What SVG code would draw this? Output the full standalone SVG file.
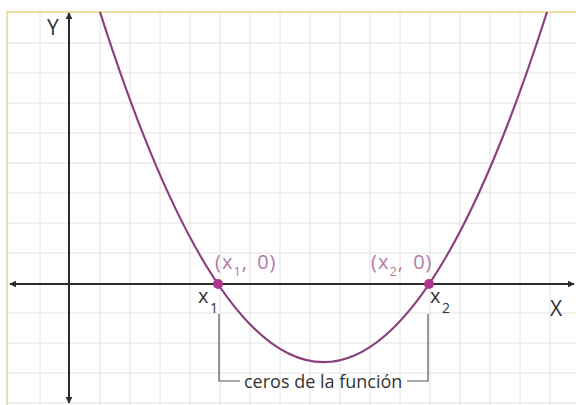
<svg xmlns="http://www.w3.org/2000/svg" width="576" height="405" viewBox="0 0 576 405">
<defs>
<style>
.grid line{stroke:#e2e2e2;stroke-width:1}
.axis{stroke:#2b2b2b;stroke-width:2;fill:none}
.curve{stroke:#8a3f7e;stroke-width:2.2;fill:none}
.dot{fill:#b0338f}
.lbl{font-family:"Open Sans","Noto Sans",sans-serif;fill:#333}
.pt{font-family:"Open Sans","Noto Sans",sans-serif;fill:#b57aa8;letter-spacing:1px;word-spacing:3px}
.br{stroke:#555;stroke-width:1.2;fill:none}
</style>
<marker id="ah" viewBox="0 0 10 10" refX="9" refY="5" markerWidth="7" markerHeight="7" markerUnits="userSpaceOnUse" orient="auto">
<path d="M0,0 L10,5 L0,10 z" fill="#2b2b2b"/>
</marker>
</defs>
<rect width="576" height="405" fill="#fff"/>
<g class="grid">
<line x1="40" y1="12" x2="40" y2="405"/><line x1="100" y1="12" x2="100" y2="405"/><line x1="130" y1="12" x2="130" y2="405"/><line x1="160" y1="12" x2="160" y2="405"/><line x1="190" y1="12" x2="190" y2="405"/><line x1="220" y1="12" x2="220" y2="405"/><line x1="250" y1="12" x2="250" y2="405"/><line x1="280" y1="12" x2="280" y2="405"/><line x1="310" y1="12" x2="310" y2="405"/><line x1="340" y1="12" x2="340" y2="405"/><line x1="370" y1="12" x2="370" y2="405"/><line x1="400" y1="12" x2="400" y2="405"/><line x1="430" y1="12" x2="430" y2="405"/><line x1="460" y1="12" x2="460" y2="405"/><line x1="490" y1="12" x2="490" y2="405"/><line x1="520" y1="12" x2="520" y2="405"/><line x1="550" y1="12" x2="550" y2="405"/>
<line x1="7" y1="43" x2="576" y2="43"/><line x1="7" y1="73" x2="576" y2="73"/><line x1="7" y1="103" x2="576" y2="103"/><line x1="7" y1="133" x2="576" y2="133"/><line x1="7" y1="163" x2="576" y2="163"/><line x1="7" y1="193" x2="576" y2="193"/><line x1="7" y1="223" x2="576" y2="223"/><line x1="7" y1="253" x2="576" y2="253"/><line x1="7" y1="313" x2="576" y2="313"/><line x1="7" y1="343" x2="576" y2="343"/><line x1="7" y1="373" x2="576" y2="373"/><line x1="7" y1="403" x2="576" y2="403"/>
</g>
<path d="M7,405 V12 H576" stroke="#e9e2a6" stroke-width="2" fill="none"/>
<g id="connectors">
<line class="axis" x1="69" y1="220" x2="69" y2="13" marker-end="url(#ah)"/>
<line class="axis" x1="69" y1="220" x2="69" y2="403" marker-end="url(#ah)"/>
<line class="axis" x1="300" y1="284" x2="10" y2="284" marker-end="url(#ah)"/>
<line class="axis" x1="300" y1="284" x2="574" y2="284" marker-end="url(#ah)"/>
<path class="br" d="M219,314 V381 H240"/>
<path class="br" d="M407,381 H428 V314"/>
</g>
<g id="parabola">
<path class="curve" d="M100,12 Q323.5,712.4 547,12"/>
</g>
<g id="axis-labels">
<text class="lbl" x="47" y="35" font-size="21">Y</text>
<text class="lbl" x="550" y="316" font-size="21">X</text>
</g>
<g id="zero1">
<circle class="dot" cx="218" cy="284" r="5"/>
<text class="lbl" x="198" y="303" font-size="20">x</text>
<text class="lbl" x="210" y="313" font-size="14">1</text>
<text class="pt" x="215" y="269" font-size="20">(x<tspan font-size="13" dy="7">1</tspan><tspan dy="-7">, 0)</tspan></text>
</g>
<g id="zero2">
<circle class="dot" cx="429" cy="284" r="5"/>
<text class="lbl" x="430" y="303" font-size="20">x</text>
<text class="lbl" x="442" y="313" font-size="14">2</text>
<text class="pt" x="371" y="269" font-size="20">(x<tspan font-size="13" dy="7">2</tspan><tspan dy="-7">, 0)</tspan></text>
</g>
<g id="label-ceros">
<text class="lbl" x="244" y="388" font-size="18">ceros de la función</text>
</g>
</svg>
